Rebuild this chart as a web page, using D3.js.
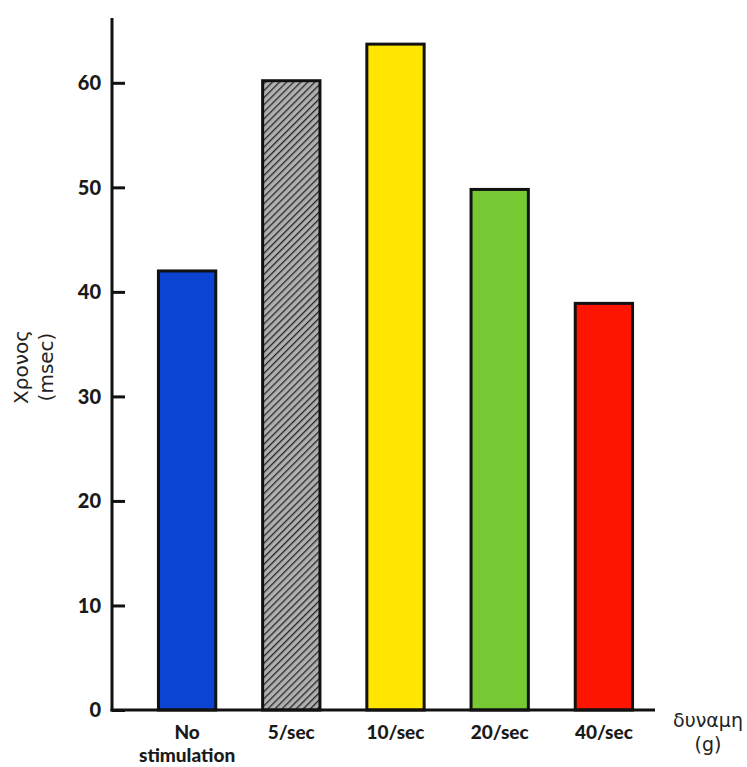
<!DOCTYPE html>
<html>
<head>
<meta charset="utf-8">
<script src="https://cdn.jsdelivr.net/npm/d3@7"></script>
<style>
html,body{margin:0;padding:0;background:#fff;}
</style>
</head>
<body>
<svg id="chart" width="747" height="767"></svg>
<script>
const categories = ["No stimulation", "5/sec", "10/sec", "20/sec", "40/sec"];
const values = [42.0, 60.2, 63.7, 49.8, 38.9];
const fills = ["#0b44d2", "hatch", "#ffe600", "#76c932", "#ff1400"];
const yTicks = [0, 10, 20, 30, 40, 50, 60];

const svg = d3.select("#chart");
const y = d3.scaleLinear().domain([0, 66.2]).range([710, 18]);
const x = d3.scaleBand().domain(categories).range([135, 656]).paddingInner(0.45).paddingOuter(0.225);

const defs = svg.append("defs");
const pat = defs.append("pattern").attr("id", "hatch").attr("patternUnits", "userSpaceOnUse")
  .attr("width", 5).attr("height", 5).attr("patternTransform", "rotate(45)");
pat.append("rect").attr("width", 5).attr("height", 5).attr("fill", "#b0b0b0");
pat.append("line").attr("x1", 0).attr("y1", 0).attr("x2", 0).attr("y2", 5)
  .attr("stroke", "#262626").attr("stroke-width", 2.6);

// bars
svg.append("g").selectAll("rect").data(categories).join("rect")
  .attr("x", d => x(d))
  .attr("y", (d, i) => y(values[i]))
  .attr("width", x.bandwidth())
  .attr("height", (d, i) => y(0) - y(values[i]))
  .attr("fill", (d, i) => fills[i] === "hatch" ? "url(#hatch)" : fills[i])
  .attr("stroke", "#111").attr("stroke-width", 3);

// y axis
const yAxis = d3.axisRight(y).tickValues(yTicks).tickSize(13).tickFormat("");
const gy = svg.append("g").attr("transform", "translate(112,0)").call(yAxis);
gy.select(".domain").remove();
gy.selectAll(".tick line").attr("stroke", "#111").attr("stroke-width", 3);
svg.append("line").attr("x1", 112).attr("x2", 112).attr("y1", y(66.2)).attr("y2", y(0) + 1.5)
  .attr("stroke", "#111").attr("stroke-width", 3);
svg.append("g").selectAll("text").data(yTicks).join("text")
  .attr("x", 101).attr("y", d => y(d)).attr("dy", "0.36em")
  .attr("text-anchor", "end")
  .attr("font-family", "Lato, 'Open Sans', sans-serif").attr("font-weight", "900")
  .attr("font-size", 20).attr("fill", "#1a1a1a").text(d => d);

// x axis line
svg.append("line").attr("x1", 110.5).attr("x2", 655).attr("y1", y(0)).attr("y2", y(0))
  .attr("stroke", "#111").attr("stroke-width", 3);

// category labels
const lab = svg.append("g").selectAll("text").data(categories).join("text")
  .attr("x", d => x(d) + x.bandwidth() / 2).attr("y", 739)
  .attr("text-anchor", "middle")
  .attr("font-family", "Lato, 'Open Sans', sans-serif").attr("font-weight", "900")
  .attr("font-size", 19).attr("fill", "#1a1a1a");
lab.each(function(d) {
  const parts = d === "No stimulation" ? ["No", "stimulation"] : [d];
  const t = d3.select(this);
  parts.forEach((p, i) => t.append("tspan").attr("x", x(d) + x.bandwidth() / 2).attr("dy", i ? 23 : 0).text(p));
});

// y title
const yt = svg.append("text").attr("transform", "translate(0,367) rotate(-90)")
  .attr("text-anchor", "middle").attr("font-family", "'DejaVu Sans', sans-serif")
  .attr("font-size", 20).attr("fill", "#222");
yt.append("tspan").attr("x", 0).attr("y", 28).text("Χρονος");
yt.append("tspan").attr("x", 0).attr("y", 53).text("(msec)");

// x title
const xt = svg.append("text").attr("text-anchor", "middle")
  .attr("font-family", "'DejaVu Sans', sans-serif").attr("font-size", 19).attr("fill", "#222");
xt.append("tspan").attr("x", 708).attr("y", 727).text("δυναμη");
xt.append("tspan").attr("x", 708).attr("y", 751).text("(g)");
</script>
</body>
</html>
